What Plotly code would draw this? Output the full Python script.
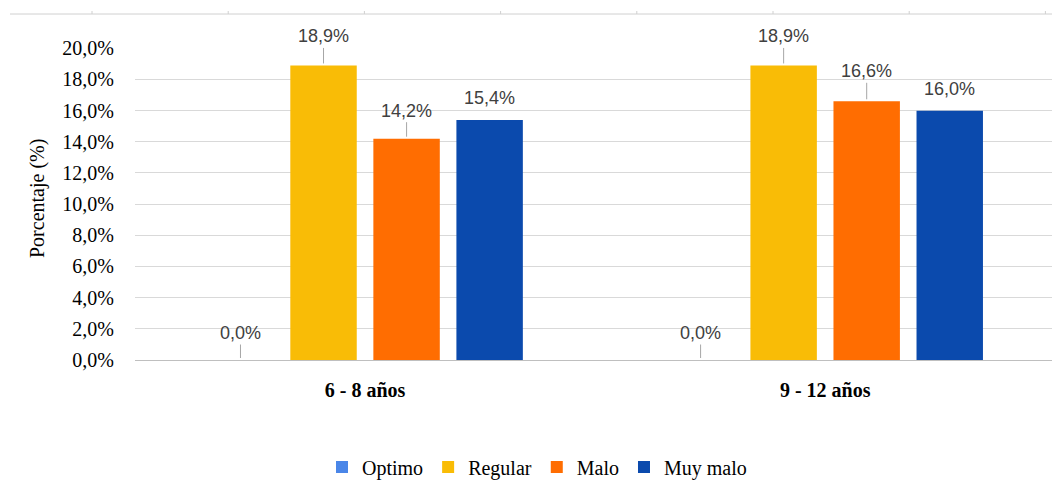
import plotly.graph_objects as go

# ---- data ----
categories = ["6 - 8 años", "9 - 12 años"]
series_names = ["Optimo", "Regular", "Malo", "Muy malo"]
optimo = [0.0, 0.0]
regular = [18.9, 18.9]
malo = [14.2, 16.6]
muy_malo = [15.4, 16.0]
y_tick_values = [0, 2, 4, 6, 8, 10, 12, 14, 16, 18, 20]

series_values = [optimo, regular, malo, muy_malo]


def fmt(v):
    return f"{v:.1f}%".replace(".", ",")


# ---- style ----
colors = ["#4A86E8", "#F9BC06", "#FF6D01", "#0B4AAD"]
label_offset = [[27, 29, 28, 22], [27, 29, 30, 22]]   # px above bar top
label_leader = [[True, True, True, False], [True, True, True, False]]

W, H = 1052, 497
ML, MR, MT, MB = 135, 0, 48, 137
BARGAP = 0.278
BARGROUPGAP = 0.2
n = len(series_names)

fig = go.Figure()
for name, vals, col in zip(series_names, series_values, colors):
    fig.add_trace(go.Bar(
        x=list(range(len(categories))), y=vals, name=name,
        marker=dict(color=col, line=dict(width=0)),
    ))

# data labels with leader lines
slot = (1 - BARGAP) / n
annotations = []
lab_font = dict(family="Liberation Sans, Arial", size=18, color="#404040")
for i, vals in enumerate(series_values):
    off = -(1 - BARGAP) / 2 + slot * (i + 0.5)
    for c, v in enumerate(vals):
        o = label_offset[c][i]
        if label_leader[c][i]:
            annotations.append(dict(
                x=c + off, y=v, xref="x", yref="y", text=fmt(v),
                showarrow=True, ax=0, ay=-o, arrowhead=0, arrowwidth=1,
                arrowcolor="#A6A6A6", standoff=2, font=lab_font,
            ))
        else:
            annotations.append(dict(
                x=c + off, y=v, xref="x", yref="y", text=fmt(v),
                showarrow=False, yshift=o, font=lab_font,
            ))

pw = W - ML - MR
ph = H - MT - MB


def px_x(p):
    return (p - ML) / pw


def px_y(p):
    return (H - MB - p) / ph


# y-axis title
annotations.append(dict(
    x=px_x(38), y=px_y(199), xref="paper", yref="paper", text="Porcentaje (%)",
    textangle=-90, showarrow=False, xanchor="center", yanchor="middle",
    font=dict(family="Liberation Serif, Times New Roman", size=20, color="#000000"),
))

# decorative top axis line with ticks (from the source image)
shapes = [dict(type="line", xref="paper", yref="paper",
               x0=px_x(10), x1=px_x(1052), y0=px_y(14), y1=px_y(14),
               line=dict(color="#D0D0D0", width=1))]
for k in range(8):
    tx = 92 + 136.2 * k
    shapes.append(dict(type="line", xref="paper", yref="paper",
                       x0=px_x(tx), x1=px_x(tx), y0=px_y(11), y1=px_y(14),
                       line=dict(color="#D0D0D0", width=1)))

serif = "Liberation Serif, Times New Roman"
fig.update_layout(
    width=W, height=H,
    margin=dict(l=ML, r=MR, t=MT, b=MB, pad=0),
    paper_bgcolor="white", plot_bgcolor="white",
    barmode="group", bargap=BARGAP, bargroupgap=BARGROUPGAP,
    font=dict(family=serif, size=18, color="#000000"),
    annotations=annotations,
    shapes=shapes,
    showlegend=True,
    legend=dict(orientation="h", x=px_x(537), xanchor="center",
                y=px_y(467), yanchor="middle",
                font=dict(family=serif, size=20, color="#000000"),
                itemwidth=30, traceorder="normal"),
    xaxis=dict(
        tickmode="array", tickvals=list(range(len(categories))),
        ticktext=[f"<b>{c}</b>" for c in categories],
        range=[-0.5, 1.493], showgrid=False, showline=False, zeroline=False,
        ticks="outside", ticklen=12, tickcolor="rgba(0,0,0,0)",
        tickfont=dict(family=serif, size=20, color="#000000"),
    ),
    yaxis=dict(
        range=[0, 20.02], tickmode="array", tickvals=y_tick_values,
        ticktext=[fmt(t) for t in y_tick_values],
        showgrid=True, gridcolor="#D9D9D9", gridwidth=1,
        zeroline=True, zerolinecolor="#BFBFBF", zerolinewidth=1,
        showline=False, ticks="outside", ticklen=16, tickcolor="rgba(0,0,0,0)",
        tickfont=dict(family=serif, size=20, color="#000000"),
    ),
)

fig.write_html("out.html", config={"displayModeBar": False},
               post_script="document.body.style.margin='0';")
